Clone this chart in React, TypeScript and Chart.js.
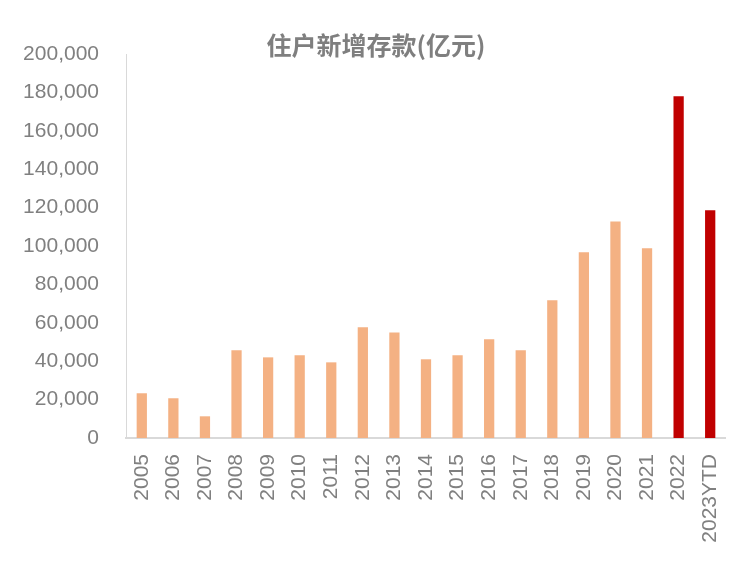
import React, { useEffect, useRef } from "react";
import { Chart, registerables } from "chart.js";

Chart.register(...registerables);

const categories = ["2005","2006","2007","2008","2009","2010","2011","2012","2013","2014","2015","2016","2017","2018","2019","2020","2021","2022","2023YTD"];
const deposits = [23300, 20700, 11300, 45700, 42000, 43100, 39400, 57700, 55000, 41000, 43100, 51400, 45700, 71700, 96700, 112800, 98800, 178000, 118600];
const highlighted = ["2022", "2023YTD"];
const titleText = "住户新增存款(亿元)";

const ORANGE = "#F4B183";
const RED = "#C00000";
const GRAY = "#808080";

export default function App() {
  const ref = useRef<HTMLCanvasElement>(null);
  useEffect(() => {
    if (!ref.current) return;
    const colors = categories.map((c) => (highlighted.includes(c) ? RED : ORANGE));
    const titlePlugin = {
      id: "customTitle",
      afterDraw(chart: any) {
        const ctx = chart.ctx;
        ctx.save();
        ctx.font = 'bold 25px "Noto Sans CJK SC", "Noto Sans", sans-serif';
        ctx.fillStyle = "#7f7f7f";
        ctx.textAlign = "center";
        ctx.textBaseline = "middle";
        ctx.fillText(titleText, chart.width / 2, 45);
        ctx.restore();
      },
    };
    const chart = new Chart(ref.current, {
      type: "bar",
      data: {
        labels: categories,
        datasets: [
          {
            data: deposits,
            backgroundColor: colors,
            barPercentage: 0.65,
            categoryPercentage: 0.5,
          },
        ],
      },
      options: {
        animation: false,
        responsive: false,
        maintainAspectRatio: false,
        layout: { padding: { left: 0, top: 54, right: 23, bottom: 0 } },
        plugins: { legend: { display: false }, title: { display: false }, tooltip: { enabled: false } },
        scales: {
          x: {
            grid: { display: false, drawTicks: false },
            border: { display: true, color: "#d9d9d9", width: 2 },
            ticks: {
              color: GRAY,
              font: { family: '"Liberation Sans", Arial, sans-serif', size: 21 },
              minRotation: 90,
              maxRotation: 90,
              autoSkip: false,
              padding: 16,
            },
            afterFit: (s: any) => {
              s.height = 125;
            },
          },
          y: {
            min: 0,
            max: 200000,
            grid: { display: false, drawTicks: false },
            border: { display: true, color: "#d9d9d9", width: 1 },
            ticks: {
              stepSize: 20000,
              color: GRAY,
              font: { family: '"Liberation Sans", Arial, sans-serif', size: 21 },
              padding: 27,
              callback: (v: any) => Number(v).toLocaleString("en-US"),
            },
            afterFit: (s: any) => {
              s.width = 126;
            },
          },
        },
      },
      plugins: [titlePlugin],
    });
    return () => chart.destroy();
  }, []);
  return (
    <div style={{ position: "fixed", left: 0, top: 0, width: 752, height: 563, background: "#fff" }}>
      <canvas ref={ref} width={752} height={563} style={{ width: 752, height: 563 }} />
    </div>
  );
}
